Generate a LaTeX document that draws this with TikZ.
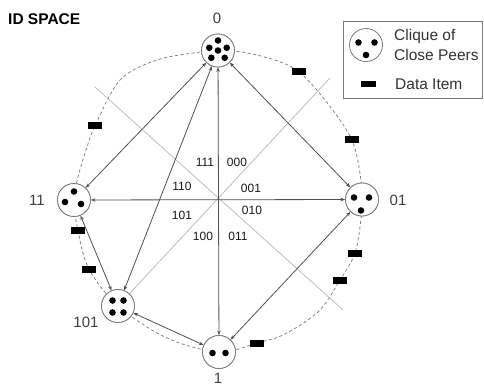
\documentclass[tikz,border=0pt]{standalone}
\usepackage{fontspec}
\setmainfont{Liberation Sans}
\usetikzlibrary{arrows.meta}
\definecolor{linkgray}{HTML}{505050}
\definecolor{sepgray}{HTML}{BDBDBD}
\definecolor{ringgray}{HTML}{7A7A7A}
\definecolor{labgray}{HTML}{404040}
\tikzset{
  peer/.style={circle, draw=ringgray, line width=0.8pt, fill=white, minimum size=33pt, inner sep=0pt},
  dot/.style={fill=black},
  dataitem/.style={rectangle, fill=black, minimum width=14pt, minimum height=7pt, inner sep=0pt},
  link/.style={draw=linkgray, line width=0.8pt, {Stealth[length=4.5pt,width=3.5pt]}-{Stealth[length=4.5pt,width=3.5pt]}},
  sep/.style={draw=sepgray, line width=0.8pt},
  ring/.style={draw=ringgray, line width=0.7pt, dash pattern=on 3.2pt off 2.4pt},
  peerlabel/.style={font=\fontsize{15}{18}\selectfont, text=labgray, inner sep=0pt},
  bits/.style={font=\fontsize{12}{14}\selectfont, text=black!90, inner sep=0pt},
  legendtext/.style={font=\fontsize{15.5}{18}\selectfont, text=black!80, inner sep=0pt, anchor=west}
}
\begin{document}
\begin{tikzpicture}[x=1pt,y=-1pt]
\useasboundingbox (0,0) rectangle (484,387);

% title
\node[anchor=west, inner sep=0pt, font=\fontsize{15.5}{18}\selectfont\bfseries] (title) at (8,19) {ID SPACE};

% dashed ring of the identifier space
\draw[ring] plot[smooth cycle, tension=0.55] coordinates {
  (218,50.5) (242,52) (275,60) (299,72) (325,100) (352,140) (361,180)
  (362,199) (361,219) (355,253) (340,280) (319,311) (285,334) (257,343)
  (219,352) (167,338) (118,306) (89,269) (78,231) (74,200) (78,177)
  (87,147) (95,126) (120,80) (157,60) (200,52)};

% region separators
\coordinate (g1) at (95,87);
\coordinate (g2) at (343,310);
\coordinate (g3) at (330,78);

% peers
\node[peer] (n0)   at (218,50.5) {};
\node[peer] (n01)  at (362,199.5) {};
\node[peer] (n1)   at (219,352) {};
\node[peer] (n101) at (118,306) {};
\node[peer] (n11)  at (74,200) {};

\draw[sep] (g1) -- (g2);
\draw[sep] (g3) -- (n101);

% routing links
\draw[link] (n0) -- (n11);
\draw[link] (n0) -- (n101);
\draw[link] (n0) -- (n1);
\draw[link] (n0) -- (n01);
\draw[link] (n11) -- (n01);
\draw[link] (n11) -- (n101);
\draw[link] (n101) -- (n1);
\draw[link] (n1) -- (n01);

% redraw peers on top of the lines
\node[peer] at (n0) {};
\node[peer] at (n01) {};
\node[peer] at (n1) {};
\node[peer] at (n101) {};
\node[peer] at (n11) {};

% members of each clique
\foreach \dx/\dy in {0/-10, -8.7/-2.7, 0/0, 8.7/-2.7, -6.7/7.3, 6.7/7.3}
  \fill[dot] ([shift={(\dx,\dy)}]n0.center) circle (3.3);
\foreach \dx/\dy in {-8/-2, 7/-2, -1/11}
  \fill[dot] ([shift={(\dx,\dy)}]n01.center) circle (3.3);
\foreach \dx/\dy in {-6.5/1, 6.5/1}
  \fill[dot] ([shift={(\dx,\dy)}]n1.center) circle (3.3);
\foreach \dx/\dy in {-5.5/-5.5, 5.5/-5.5, -5.5/6.5, 5.5/6.5}
  \fill[dot] ([shift={(\dx,\dy)}]n101.center) circle (3.3);
\foreach \dx/\dy in {0/-8.5, -9/2, 7/4}
  \fill[dot] ([shift={(\dx,\dy)}]n11.center) circle (3.3);

% data items on the ring
\node[dataitem] (d1) at (95,126) {};
\node[dataitem] (d2) at (299,72) {};
\node[dataitem] (d3) at (352,140) {};
\node[dataitem] (d4) at (78,231) {};
\node[dataitem] (d5) at (89,269) {};
\node[dataitem] (d6) at (355,253) {};
\node[dataitem] (d7) at (340,280) {};
\node[dataitem] (d8) at (257,343) {};

% peer identifiers
\node[peerlabel] (l0)   at (217,18) {0};
\node[peerlabel] (l11)  at (37,200) {11};
\node[peerlabel] (l01)  at (398,200) {01};
\node[peerlabel] (l101) at (86,322) {101};
\node[peerlabel] (l1)   at (218,378.5) {1};

% prefixes of the regions
\node[bits] (b111) at (205,162) {111};
\node[bits] (b000) at (237,162) {000};
\node[bits] (b110) at (182,186) {110};
\node[bits] (b001) at (251,188) {001};
\node[bits] (b101) at (182,215) {101};
\node[bits] (b010) at (252,210) {010};
\node[bits] (b100) at (203,236) {100};
\node[bits] (b011) at (238,236) {011};

% legend
\draw[draw=ringgray, line width=0.8pt] (343,21) rectangle (482.5,98);
\node[peer] (lg) at (366,45) {};
\foreach \dx/\dy in {-7.5/-2.5, 8.5/-2.5, 0/10}
  \fill[dot] ([shift={(\dx,\dy)}]lg.center) circle (3.3);
\node[legendtext] (t1) at (394,36.5) {Clique of};
\node[legendtext] (t2) at (394,55) {Close Peers};
\node[dataitem, minimum width=15pt, minimum height=6.5pt] (ld) at (368,84) {};
\node[legendtext] (t3) at (395,84) {Data Item};
\end{tikzpicture}
\end{document}
